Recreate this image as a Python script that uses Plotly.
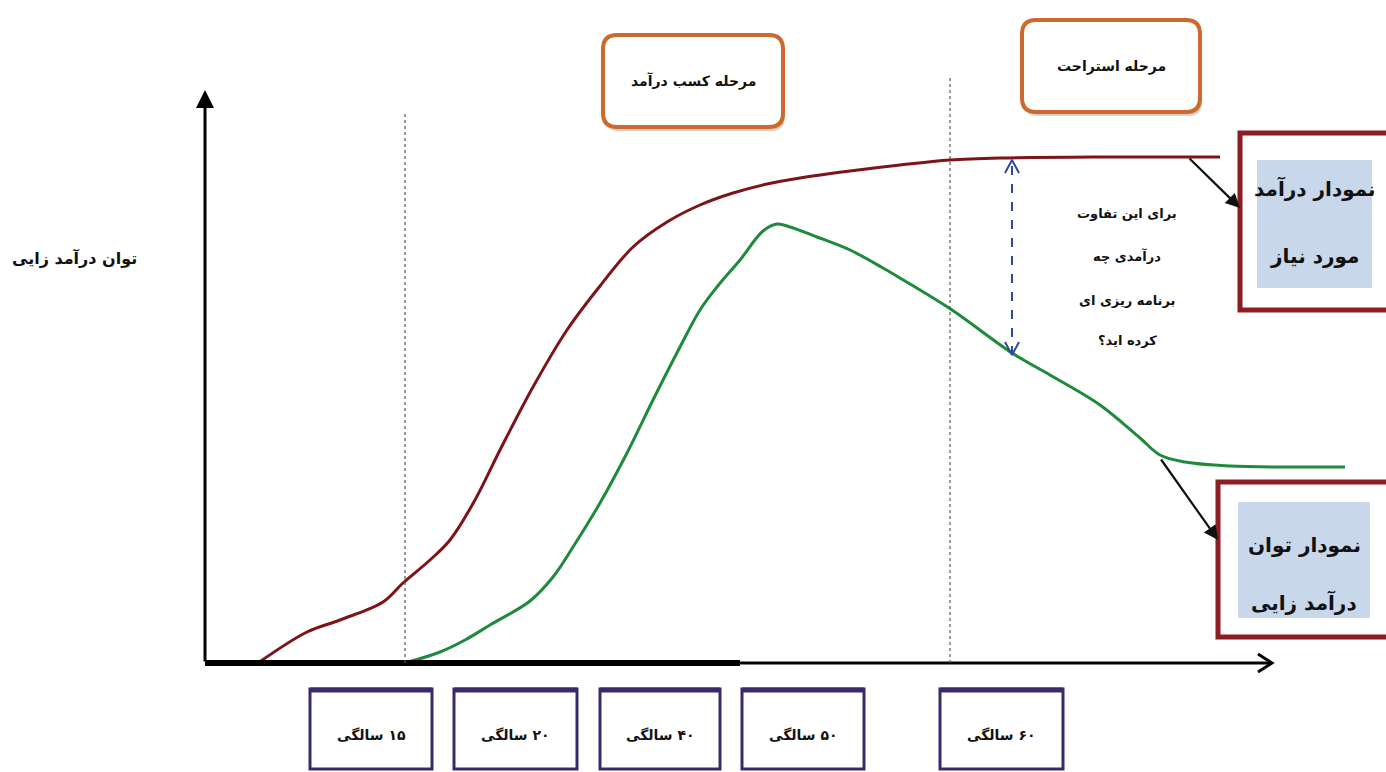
import plotly.graph_objects as go

# ---------------- data (x = horizontal position, h = height above the time axis) ----------------
required_x = [258, 307, 340, 383, 403, 430, 450, 475, 500, 533, 567, 600, 633, 667, 700, 733,
              767, 800, 850, 900, 950, 1000, 1100, 1220]
required_h = [0, 31, 43, 61, 80, 103, 123, 163, 213, 276, 333, 377, 416, 441, 458, 470,
              479, 485, 492, 498, 503, 505, 506, 506]

earning_x = [405, 440, 465, 490, 530, 553, 573, 600, 627, 653, 680, 700, 717, 740, 763, 777,
             790, 817, 850, 883, 900, 952, 1012, 1050, 1100, 1140, 1160, 1185, 1230, 1290, 1345]
earning_h = [0, 11, 23, 38, 62, 86, 116, 160, 210, 263, 316, 353, 376, 403, 432, 439,
             436, 426, 413, 395, 385, 353, 310, 288, 258, 225, 208, 201, 197, 196, 196]

age_labels = ["۱۵ سالگی", "۲۰ سالگی", "۴۰ سالگی", "۵۰ سالگی", "۶۰ سالگی"]
phase_labels = ["مرحله کسب درآمد", "مرحله استراحت"]
y_title = "توان درآمد زایی"
gap_note = ["برای این تفاوت", "درآمدی چه", "برنامه ریزی ای", "کرده اید؟"]
required_label = ["نمودار درآمد", "مورد نیاز"]
earning_label = ["نمودار توان", "درآمد زایی"]

# ---------------- geometry helpers ----------------
W, H = 1386, 772
AXIS_ROW = 663          # pixel row of the time axis


def h(py):
    """pixel row -> data height"""
    return AXIS_ROW - py


RLM = "\u200f"
FONT = "DejaVu Sans"

RED = "#7d1518"
GREEN = "#1f8a3c"
ORANGE = "#cc6a2c"
DARKRED = "#8c1d22"
PURPLE = "#3a2a6c"
BLUE = "#2f4a9c"

fig = go.Figure()

fig.add_trace(go.Scatter(x=required_x, y=required_h, mode="lines",
                         line=dict(color=RED, width=3, shape="spline", smoothing=1.0),
                         hoverinfo="skip", showlegend=False))
fig.add_trace(go.Scatter(x=earning_x, y=earning_h, mode="lines",
                         line=dict(color=GREEN, width=3, shape="spline", smoothing=1.0),
                         hoverinfo="skip", showlegend=False))

shapes = []
annos = []

# axes
shapes.append(dict(type="line", x0=205, x1=740, y0=0, y1=0, line=dict(color="black", width=6)))
shapes.append(dict(type="line", x0=205, x1=1272, y0=0, y1=0, line=dict(color="black", width=3)))
annos.append(dict(x=205, y=h(90), ax=205, ay=0, xref="x", yref="y", axref="x", ayref="y",
                  text="", showarrow=True, arrowhead=2, arrowsize=1.2, arrowwidth=3,
                  arrowcolor="black"))
# open arrow head of the time axis
fig.add_trace(go.Scatter(x=[1258, 1272, 1258], y=[9, 0, -9], mode="lines",
                         line=dict(color="black", width=3), hoverinfo="skip", showlegend=False))

# phase divider lines
shapes.append(dict(type="line", x0=405, x1=405, y0=0, y1=h(112),
                   line=dict(color="#555555", width=1.2, dash="dot")))
shapes.append(dict(type="line", x0=950, x1=950, y0=0, y1=h(75),
                   line=dict(color="#555555", width=1.2, dash="dot")))

# gap arrow (dashed, double headed)
gx, g_top, g_bot = 1012, h(160), h(355)
shapes.append(dict(type="line", x0=gx, x1=gx, y0=g_bot, y1=g_top,
                   line=dict(color=BLUE, width=2, dash="dash")))
fig.add_trace(go.Scatter(x=[gx - 7, gx, gx + 7], y=[g_top - 13, g_top, g_top - 13], mode="lines",
                         line=dict(color=BLUE, width=2), hoverinfo="skip", showlegend=False))
fig.add_trace(go.Scatter(x=[gx - 7, gx, gx + 7], y=[g_bot + 13, g_bot, g_bot + 13], mode="lines",
                         line=dict(color=BLUE, width=2), hoverinfo="skip", showlegend=False))


def rounded(x0, x1, py0, py1, r):
    y0, y1 = h(py1), h(py0)   # y0 bottom, y1 top
    return (f"M {x0 + r},{y0} L {x1 - r},{y0} Q {x1},{y0} {x1},{y0 + r} "
            f"L {x1},{y1 - r} Q {x1},{y1} {x1 - r},{y1} L {x0 + r},{y1} "
            f"Q {x0},{y1} {x0},{y1 - r} L {x0},{y0 + r} Q {x0},{y0} {x0 + r},{y0} Z")


# phase boxes (top)
phase_boxes = [(603, 783, 35, 127), (1022, 1200, 20, 112)]
for (x0, x1, p0, p1), lab in zip(phase_boxes, phase_labels):
    shapes.append(dict(type="path", path=rounded(x0 + 2, x1 + 2, p0 + 4, p1 + 4, 14),
                       fillcolor="#d9cfc8", line=dict(width=0), layer="below"))
    shapes.append(dict(type="path", path=rounded(x0, x1, p0, p1, 14),
                       fillcolor="white", line=dict(color=ORANGE, width=4)))
    annos.append(dict(x=(x0 + x1) / 2, y=h((p0 + p1) / 2), xref="x", yref="y", text=lab,
                      showarrow=False, font=dict(family=FONT, size=14, color="#111111", weight="bold")))

# right-side legend boxes
legend_boxes = [
    ((1240, 1392, 133, 310), (1257, 1372, 160, 288), required_label, (188, 256)),
    ((1218, 1392, 482, 637), (1238, 1370, 502, 618), earning_label, (545, 602)),
]
for (ox0, ox1, op0, op1), (ix0, ix1, ip0, ip1), lines, rows in legend_boxes:
    shapes.append(dict(type="rect", x0=ox0, x1=ox1, y0=h(op1), y1=h(op0),
                       fillcolor="white", line=dict(color=DARKRED, width=5)))
    shapes.append(dict(type="rect", x0=ix0, x1=ix1, y0=h(ip1), y1=h(ip0),
                       fillcolor="#c9d7ea", line=dict(width=0)))
    for txt, py in zip(lines, rows):
        annos.append(dict(x=(ix0 + ix1) / 2, y=h(py), xref="x", yref="y", text=txt,
                          showarrow=False,
                          font=dict(family=FONT, size=20, color="#111111", weight="bold")))

# pointer arrows to the legend boxes
annos.append(dict(x=1240, y=h(208), ax=1188, ay=h(157), xref="x", yref="y", axref="x", ayref="y",
                  text="", showarrow=True, arrowhead=2, arrowsize=1.3, arrowwidth=2.2,
                  arrowcolor="#111111"))
annos.append(dict(x=1218, y=h(540), ax=1160, ay=h(458), xref="x", yref="y", axref="x", ayref="y",
                  text="", showarrow=True, arrowhead=2, arrowsize=1.3, arrowwidth=2.2,
                  arrowcolor="#111111"))

# question about the gap
for txt, py in zip(gap_note, [213, 256, 300, 340]):
    annos.append(dict(x=1127, y=h(py), xref="x", yref="y", text=txt, showarrow=False,
                      font=dict(family=FONT, size=13, color="#111111", weight="bold")))

# y-axis title
annos.append(dict(x=74, y=h(258), xref="x", yref="y", text=y_title, showarrow=False,
                  font=dict(family=FONT, size=16, color="#111111", weight="bold")))

# age boxes (bottom)
age_boxes = [(310, 432), (454, 577), (600, 720), (742, 864), (940, 1063)]
for (x0, x1), lab in zip(age_boxes, age_labels):
    shapes.append(dict(type="rect", x0=x0, x1=x1, y0=h(769), y1=h(689),
                       fillcolor="white", line=dict(color=PURPLE, width=3)))
    shapes.append(dict(type="line", x0=x0, x1=x1, y0=h(690), y1=h(690),
                       line=dict(color=PURPLE, width=5)))
    annos.append(dict(x=(x0 + x1) / 2, y=h(735), xref="x", yref="y", text=RLM + lab,
                      showarrow=False, font=dict(family=FONT, size=14, color="#111111", weight="bold")))

fig.update_layout(
    width=W, height=H,
    margin=dict(l=0, r=0, t=0, b=0),
    paper_bgcolor="white", plot_bgcolor="white",
    xaxis=dict(range=[0, W], visible=False, fixedrange=True),
    yaxis=dict(range=[AXIS_ROW - H, AXIS_ROW], visible=False, fixedrange=True),
    shapes=shapes, annotations=annos, showlegend=False,
)

fig.write_html("out.html", config={"displayModeBar": False})
